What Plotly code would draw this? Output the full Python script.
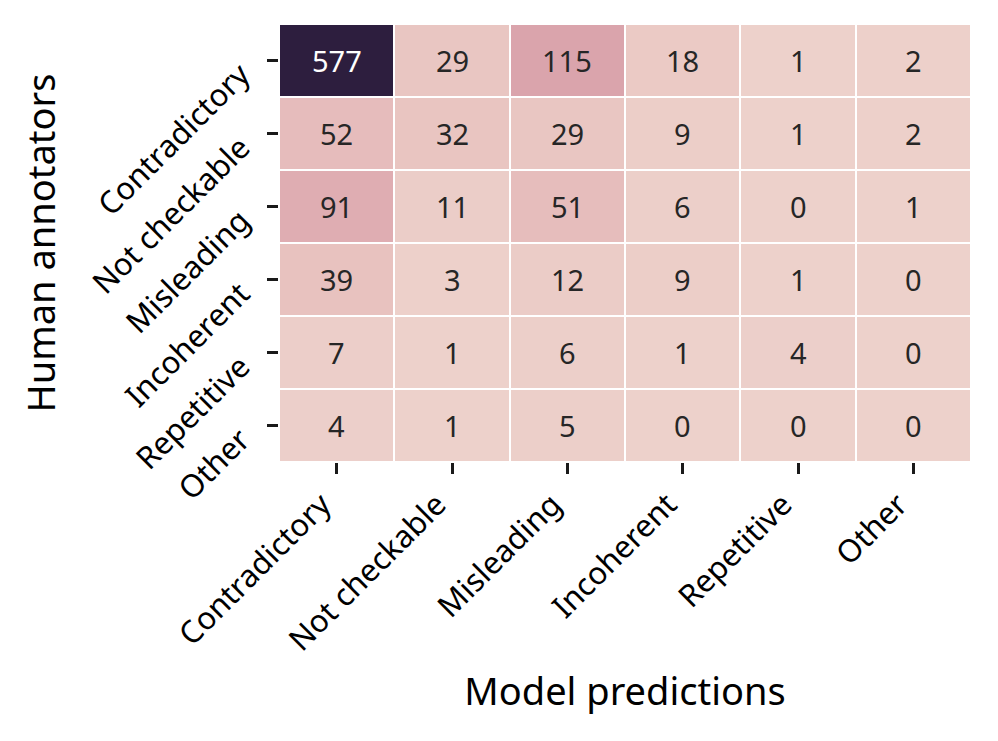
import numpy as np
import plotly.graph_objects as go

categories = ["Contradictory", "Not checkable", "Misleading", "Incoherent", "Repetitive", "Other"]
counts = [
    [577, 29, 115, 18, 1, 2],
    [52, 32, 29, 9, 1, 2],
    [91, 11, 51, 6, 0, 1],
    [39, 3, 12, 9, 1, 0],
    [7, 1, 6, 1, 4, 0],
    [4, 1, 5, 0, 0, 0],
]

# seaborn default cubehelix_palette(as_cmap=True)
def cubehelix(x, start=0.0, rot=0.4, gamma=1.0, hue=0.8):
    xg = x ** gamma
    a = hue * xg * (1 - xg) / 2
    phi = 2 * np.pi * (start / 3 + rot * x)
    r = xg + a * (-0.14861 * np.cos(phi) + 1.78277 * np.sin(phi))
    g = xg + a * (-0.29227 * np.cos(phi) - 0.90649 * np.sin(phi))
    b = xg + a * (1.97294 * np.cos(phi))
    return [min(max(v, 0), 1) for v in (r, g, b)]

light, dark = 0.85, 0.15
colorscale = []
for t in np.linspace(0, 1, 21):
    r, g, b = cubehelix(light + (dark - light) * t)
    colorscale.append([float(t), f"rgb({int(round(r*255))},{int(round(g*255))},{int(round(b*255))})"])

z = np.array(counts)
vmax = z.max()
text_colors = [["white" if v > vmax * 0.5 else "#262626" for v in row] for row in counts]

FONT = "Noto Sans"
# page body has an 8px default margin; compensate so plot sits at x 279-971, y 24-462
fig = go.Figure()
fig.add_trace(go.Heatmap(
    z=counts, x=categories, y=categories,
    colorscale=colorscale, zmin=0, zmax=vmax,
    showscale=False, xgap=2, ygap=2,
    hoverinfo="skip",
))

annotations = []
for i, row in enumerate(counts):
    for j, v in enumerate(row):
        annotations.append(dict(
            x=categories[j], y=categories[i], text=str(v), showarrow=False,
            font=dict(family=FONT, size=29, color=text_colors[i][j]),
        ))

fig.update_layout(
    width=998, height=741,
    margin=dict(l=271, r=35, t=16, b=287, autoexpand=False),
    paper_bgcolor="white", plot_bgcolor="white",
    annotations=annotations,
    font=dict(family=FONT, size=31, color="black"),
    xaxis=dict(
        title=dict(text="Model predictions", font=dict(size=38), standoff=20),
        tickangle=-45, ticks="outside", ticklen=11, tickwidth=2.5, tickcolor="#1a1a1a",
        showgrid=False, zeroline=False, showline=False, automargin=False,
        ticklabelstandoff=0, ticklabelshift=-15,
    ),
    yaxis=dict(
        title=dict(text="Human annotators", font=dict(size=38), standoff=15),
        tickangle=-45, ticks="outside", ticklen=11, tickwidth=2.5, tickcolor="#1a1a1a",
        autorange="reversed", showgrid=False, zeroline=False, showline=False,
        automargin=False, ticklabelstandoff=20, ticklabelshift=-10,
    ),
)

fig.write_html("out.html")
